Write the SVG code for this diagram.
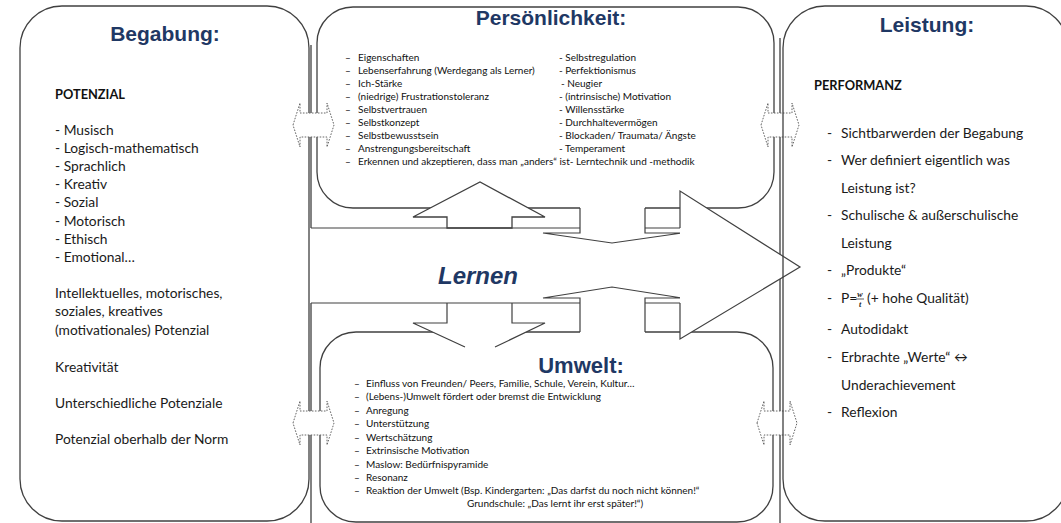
<svg xmlns="http://www.w3.org/2000/svg" width="1061" height="523" viewBox="0 0 1061 523">
<style>
.box{fill:#fff;stroke:#404040;stroke-width:1.3}
.open{fill:none;stroke:#404040;stroke-width:1.3}
.ln{fill:none;stroke:#404040;stroke-width:1.2}
.wf{fill:#fff;stroke:none}
.dbl{fill:#fff;stroke:#666;stroke-width:1;stroke-dasharray:1.6 1.4}
.title{font-family:"Liberation Sans",Arial,sans-serif;font-weight:bold;font-size:21px;fill:#1F3864;text-anchor:middle}
.t14{font-family:Lato,"Open Sans",sans-serif;font-size:13.8px;fill:#1a1a1a}
.b14{font-family:Lato,"Open Sans",sans-serif;font-size:12.8px;font-weight:bold;fill:#111}
.t10{font-family:Lato,"Open Sans",sans-serif;font-size:10px;fill:#111}
</style>

<g id="begabung">
<rect class="box" x="20" y="6" width="289" height="515" rx="42"/>
<text class="title" x="165" y="41">Begabung:</text>
<text class="b14" x="55" y="99">POTENZIAL</text>
<text class="t14" x="55" y="135">- Musisch</text>
<text class="t14" x="55" y="153">- Logisch-mathematisch</text>
<text class="t14" x="55" y="171">- Sprachlich</text>
<text class="t14" x="55" y="189">- Kreativ</text>
<text class="t14" x="55" y="207">- Sozial</text>
<text class="t14" x="55" y="226">- Motorisch</text>
<text class="t14" x="55" y="244">- Ethisch</text>
<text class="t14" x="55" y="262">- Emotional…</text>
<text class="t14" x="55" y="298">Intellektuelles, motorisches,</text>
<text class="t14" x="55" y="316">soziales, kreatives</text>
<text class="t14" x="55" y="335">(motivationales) Potenzial</text>
<text class="t14" x="55" y="372">Kreativität</text>
<text class="t14" x="55" y="408">Unterschiedliche Potenziale</text>
<text class="t14" x="55" y="444">Potenzial oberhalb der Norm</text>
</g>

<g id="persoenlichkeit">
<rect class="box" x="317" y="7" width="457" height="201" rx="36"/>
</g>

<g id="umwelt">
<rect class="box" x="320" y="332" width="453" height="190" rx="36"/>
</g>

<g id="frame">
<path class="open" d="M311,45 V228 M311,303 V523 M780,38 V256 M780,279 V523"/>
</g>

<g id="connectors">
<!-- Lernen -> Persoenlichkeit -->
<path class="box" d="M447,228 V217 H413 L480,182 L545,217 H512 V228 Z"/>
<!-- Persoenlichkeit -> Lernen -->
<path class="wf" d="M580,196 V233 H543 L612,243 L682,233 H645 V196 Z"/>
<path class="ln" d="M580,208 V233 H543 L612,243 L682,233 H645 V208"/>
<!-- Umwelt -> Lernen -->
<path class="wf" d="M580,342 V298 H543 L612,287 L682,298 H645 V342 Z"/>
<path class="ln" d="M580,332 V298 H543 L612,287 L682,298 H645 V332"/>
<!-- Lernen -> Umwelt -->
<path class="wf" d="M447,303 V323 H413 L465,347 H495 L545,323 H512 V303 Z"/>
<path class="ln" d="M447,303 V323 H413 L465,347 M495,347 L545,323 H512 V303"/>
<!-- Lernen band -->
<path class="ln" d="M311,228 H580 M645,228 H680 M311,303 H580 M645,303 H680"/>
<path class="wf" d="M680,191 L800,267 L680,339 Z"/>
<path class="ln" d="M680,228 V191 L800,267 L680,339 V303"/>
<!-- dotted double arrows -->
<path class="dbl" d="M293,125 L300,103 V113 H327 V103 L334,125 L327,147 V137 H300 V147 Z"/>
<path class="dbl" d="M761,125 L768,103 V113 H792 V103 L799,125 L792,147 V137 H768 V147 Z"/>
<path class="dbl" d="M293,423 L300,401 V411 H327 V401 L334,423 L327,445 V435 H300 V445 Z"/>
<path class="dbl" d="M757,423 L764,401 V411 H790 V401 L797,423 L790,445 V435 H764 V445 Z"/>
</g>

<g id="leistung">
<rect class="open" x="783" y="6" width="285" height="515" rx="42"/>
<text class="title" x="927" y="32">Leistung:</text>
<text class="b14" x="814" y="90">PERFORMANZ</text>
<g class="t14">
<text x="827" y="138">-</text><text x="841" y="138">Sichtbarwerden der Begabung</text>
<text x="827" y="165">-</text><text x="841" y="165">Wer definiert eigentlich was</text>
<text x="841" y="193">Leistung ist?</text>
<text x="827" y="220">-</text><text x="841" y="220">Schulische &amp; außerschulische</text>
<text x="841" y="248">Leistung</text>
<text x="827" y="275">-</text><text x="841" y="275">„Produkte“</text>
<text x="827" y="303">-</text><text x="841" y="303">P=</text>
<text x="867" y="303">(+ hohe Qualität)</text>
<text x="827" y="334">-</text><text x="841" y="334">Autodidakt</text>
<text x="827" y="362">-</text><text x="841" y="362">Erbrachte „Werte“ ↔</text>
<text x="841" y="390">Underachievement</text>
<text x="827" y="417">-</text><text x="841" y="417">Reflexion</text>
</g>
<text x="860" y="297" style="font-family:'Liberation Serif',serif;font-style:italic;font-weight:bold;font-size:8px;fill:#1a1a1a;text-anchor:middle">w</text>
<line x1="856" y1="299" x2="864" y2="299" stroke="#1a1a1a" stroke-width="0.7"/>
<text x="860" y="307" style="font-family:'Liberation Serif',serif;font-style:italic;font-weight:bold;font-size:8px;fill:#1a1a1a;text-anchor:middle">t</text>
</g>

<g id="persoenlichkeit-text">
<text class="title" x="551" y="25">Persönlichkeit:</text>
<g class="t10">
<text x="345" y="60.5">–</text><text x="358" y="60.5">Eigenschaften</text>
<text x="345" y="73.5">–</text><text x="358" y="73.5">Lebenserfahrung (Werdegang als Lerner)</text>
<text x="345" y="86.5">–</text><text x="358" y="86.5">Ich-Stärke</text>
<text x="345" y="99.5">–</text><text x="358" y="99.5">(niedrige) Frustrationstoleranz</text>
<text x="345" y="112.5">–</text><text x="358" y="112.5">Selbstvertrauen</text>
<text x="345" y="125.5">–</text><text x="358" y="125.5">Selbstkonzept</text>
<text x="345" y="138.5">–</text><text x="358" y="138.5">Selbstbewusstsein</text>
<text x="345" y="151.5">–</text><text x="358" y="151.5">Anstrengungsbereitschaft</text>
<text x="345" y="164.5">–</text><text x="358" y="164.5">Erkennen und akzeptieren, dass man „anders“ ist- Lerntechnik und -methodik</text>
<text x="559" y="60.5">- Selbstregulation</text>
<text x="559" y="73.5">- Perfektionismus</text>
<text x="561" y="86.5">- Neugier</text>
<text x="559" y="99.5">- (intrinsische) Motivation</text>
<text x="559" y="112.5">- Willensstärke</text>
<text x="559" y="125.5">- Durchhaltevermögen</text>
<text x="559" y="138.5">- Blockaden/ Traumata/ Ängste</text>
<text x="559" y="151.5">- Temperament</text>
</g>
</g>

<g id="umwelt-text">
<text class="title" x="581" y="373" style="font-size:22px">Umwelt:</text>
<g class="t10">
<text x="354" y="386.5">–</text><text x="366" y="386.5">Einfluss von Freunden/ Peers, Familie, Schule, Verein, Kultur…</text>
<text x="354" y="400">–</text><text x="366" y="400">(Lebens-)Umwelt fördert oder bremst die Entwicklung</text>
<text x="354" y="413.5">–</text><text x="366" y="413.5">Anregung</text>
<text x="354" y="427">–</text><text x="366" y="427">Unterstützung</text>
<text x="354" y="440.5">–</text><text x="366" y="440.5">Wertschätzung</text>
<text x="354" y="454">–</text><text x="366" y="454">Extrinsische Motivation</text>
<text x="354" y="467.5">–</text><text x="366" y="467.5">Maslow: Bedürfnispyramide</text>
<text x="354" y="481">–</text><text x="366" y="481">Resonanz</text>
<text x="354" y="494">–</text><text x="366" y="494">Reaktion der Umwelt (Bsp. Kindergarten: „Das darfst du noch nicht können!“</text>
<text x="467" y="507">Grundschule: „Das lernt ihr erst später!“)</text>
</g>
</g>

<g id="lernen">
<text x="478" y="284" style="font-family:'Liberation Sans',Arial,sans-serif;font-weight:bold;font-style:italic;font-size:24px;fill:#1F3864;text-anchor:middle">Lernen</text>
</g>
</svg>
